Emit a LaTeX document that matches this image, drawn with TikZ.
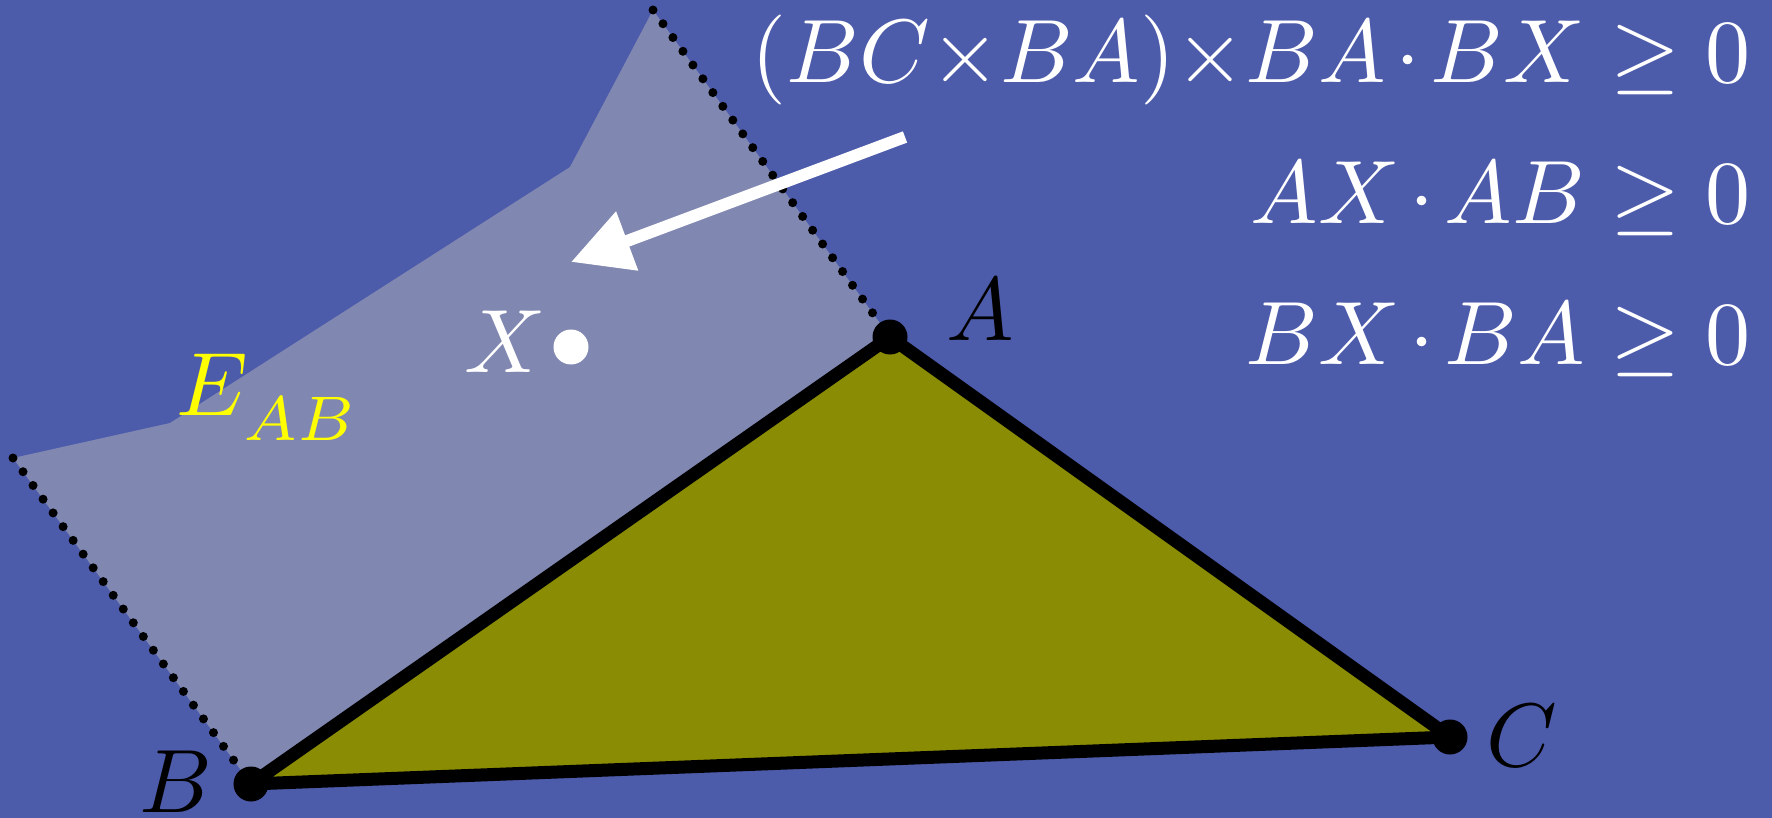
\documentclass[tikz,border=0pt]{standalone}
\usepackage{amsmath,amssymb}
\usepackage{xcolor}
\usetikzlibrary{arrows.meta,positioning}
\definecolor{cBack}{RGB}{77,91,171}
\definecolor{cStrip}{RGB}{128,135,177}
\definecolor{cTri}{RGB}{138,140,3}
\definecolor{cEdge}{RGB}{255,255,0}
\tikzset{
  vertex/.style={circle, fill=black, minimum size=35pt, inner sep=0pt},
  probe/.style={vertex, fill=white},
  side/.style={line width=13pt, line join=round, line cap=round},
  bound/.style={line width=9pt, line cap=round, dash pattern=on 0pt off 17pt},
  eq/.style={text=white, scale=9, inner sep=0pt, anchor=base east,
             execute at begin node={\medmuskip=2mu}},
  lbl/.style={scale=9, inner sep=0pt, anchor=base},
  arr/.style={-{Triangle[length=60pt, width=60pt]}, line width=12pt, white},
}
\begin{document}
\begin{tikzpicture}[x=1pt, y=-1pt]
  \useasboundingbox (0,0) rectangle (1772,818);
  \fill[cBack] (0,0) rectangle (1772,818);

  % ---- corners ----
  \coordinate (A) at (890,337);
  \coordinate (B) at (251,784);
  \coordinate (C) at (1450,737);
  \coordinate (X) at (571,347);
  \coordinate (stripL) at (13,458);
  \coordinate (stripK1) at (170,423);
  \coordinate (stripK2) at (570,167);
  \coordinate (stripT) at (653,10);

  % ---- half-plane strip and triangle ----
  \fill[cStrip] (stripL) -- (stripK1) -- (stripK2) -- (stripT) -- (A) -- (B) -- cycle;
  \fill[cTri] (A) -- (B) -- (C) -- cycle;
  \draw[bound] (stripT) -- (A);
  \draw[bound] (stripL) -- (B);
  \draw[side] (A) -- (B) -- (C) -- cycle;

  \node[vertex] (vA) at (A) {};
  \node[vertex] (vB) at (B) {};
  \node[vertex] (vC) at (C) {};
  \node[probe] (vX) at (X) {};

  % ---- labels ----
  \node[lbl] (lA) at (980,341) {$A$};
  \node[lbl] (lB) at (176,812) {$B$};
  \node[lbl] (lC) at (1522,766) {$C$};
  \node[lbl, text=white] (lX) at (505,372) {$X$};
  \node[lbl, text=cEdge, anchor=base west] (lE) at (175,415)
    {$E\sb{\lower1.3pt\hbox{$\scriptstyle AB$}}$};

  % ---- conditions ----
  \node[eq, execute at begin node={\medmuskip=0mu}] (eq1) at (1752,83)
    {$(BC\times BA)\times BA\mskip2mu\cdot\mskip2mu BX\geq 0$};
  \node[eq] (eq2) at (1752,224) {$AX\cdot AB\geq 0$};
  \node[eq] (eq3) at (1752,364) {$BX\cdot BA\geq 0$};

  \coordinate (arrS) at (905,137);
  \coordinate (arrT) at (571,262);
  \draw[arr] (arrS) -- (arrT);
\end{tikzpicture}
\end{document}
